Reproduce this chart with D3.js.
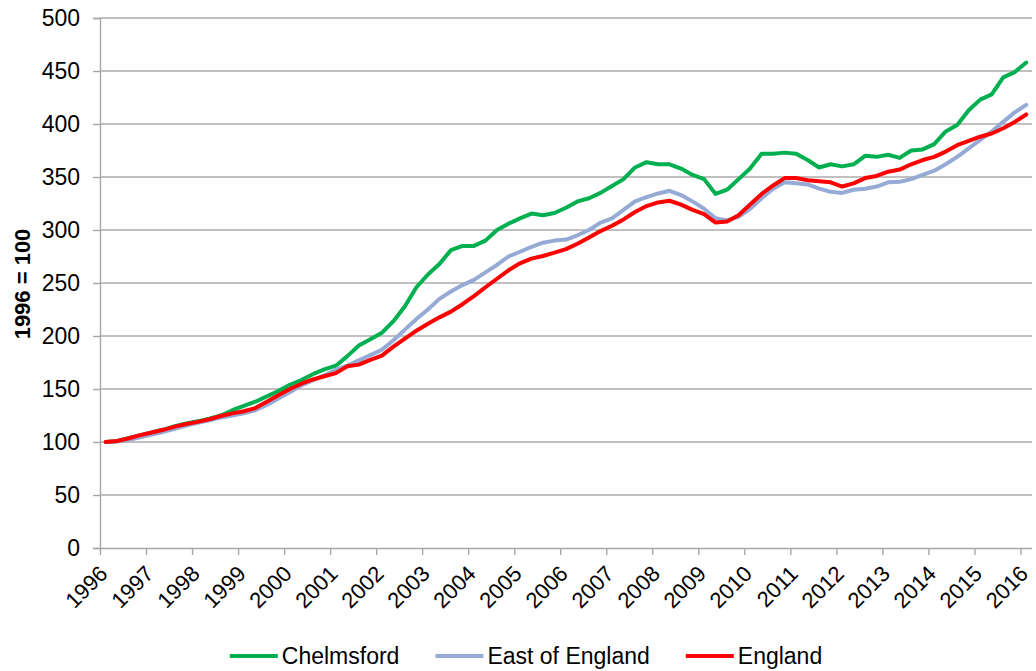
<!DOCTYPE html>
<html>
<head>
<meta charset="utf-8">
<script src="https://cdn.jsdelivr.net/npm/d3@7"></script>
<style>
  html, body { margin: 0; padding: 0; background: #fff; }
  svg { display: block; font-family: "Liberation Sans", Arial, sans-serif; }
</style>
</head>
<body>
<svg id="chart" width="1036" height="671"></svg>
<script>
// House price index, quarterly from 1996 Q1 to 2016 Q1 (1996 = 100)
const years = ["1996","1997","1998","1999","2000","2001","2002","2003","2004","2005","2006",
               "2007","2008","2009","2010","2011","2012","2013","2014","2015","2016"];

const chelmsford = [
  100, 101, 103.5, 106.5, 109, 111.5, 115, 117.5, 119.5, 122, 125, 130, 134, 138, 143, 148,
  154, 158.5, 164, 168.5, 172, 181, 191, 197, 203, 214, 228, 246, 258, 268, 281, 285,
  285, 290, 300, 306, 311, 315.5, 314, 316, 321, 327, 330, 335, 341.5, 348, 359, 364,
  362, 362, 358, 352, 348, 334, 338, 348, 358, 372, 372, 373, 372, 366, 359, 362,
  360, 362, 370, 369, 371, 368, 375, 376, 381, 393, 399, 413, 423, 428, 444, 449, 458
];

const eastOfEngland = [
  100, 100.5, 102, 104.5, 107, 109.5, 112.5, 115.5, 118, 120.5, 123, 125, 127, 130, 135, 141,
  147, 153.5, 158, 163, 168, 172, 177, 182, 187, 196, 206, 216, 225, 235, 242, 248,
  253, 260, 267, 275, 279.5, 284, 288, 290, 291, 295, 300, 307, 311, 319, 327, 331,
  334.5, 337, 333, 327, 320, 311, 309, 312.5, 320, 330, 339, 345, 344, 343, 339, 336,
  335, 338, 339, 341, 345, 345.5, 348, 352, 356, 362, 369, 377, 385, 393, 402, 411, 418
];

const england = [
  100, 101, 103.5, 106.5, 109, 111.5, 114.5, 117, 119, 121.5, 124.5, 127, 129, 132, 138, 144,
  150, 155, 159, 162, 165, 171.5, 173, 177.5, 181.5, 190, 197.5, 205, 211.5, 217.6, 223, 230,
  237.7, 246, 254, 262, 268.6, 273, 275.5, 278.6, 282, 287, 293, 299, 304, 310, 317, 322.6,
  326, 327.6, 324, 319, 315, 307, 308, 314, 324, 334, 342, 349, 349, 347, 346, 345,
  341, 344, 349, 351, 355, 357, 362, 366, 369, 374, 380, 384, 388, 391, 396, 402, 409
];

const yTicks = [0, 50, 100, 150, 200, 250, 300, 350, 400, 450, 500];

const series = [
  { name: "Chelmsford",      values: chelmsford,    color: "#00B050" },
  { name: "East of England", values: eastOfEngland, color: "#95ABD5" },
  { name: "England",         values: england,       color: "#FF0000" }
];

const svg = d3.select("#chart");
const plotLeft = 100, plotRight = 1032, plotTop = 18, plotBottom = 548;
const nQ = chelmsford.length;

// one band per quarter; year ticks sit on the band boundaries
const x = d3.scaleLinear().domain([0, nQ]).range([plotLeft, plotRight]);
const y = d3.scaleLinear().domain([0, 500]).range([plotBottom, plotTop]);

// horizontal gridlines
svg.append("g")
  .selectAll("line")
  .data(yTicks.filter(d => d > 0))
  .join("line")
  .attr("x1", plotLeft).attr("x2", plotRight)
  .attr("y1", d => y(d)).attr("y2", d => y(d))
  .attr("stroke", "#ABABAB").attr("stroke-width", 1.4);

// y axis
const yAxis = svg.append("g")
  .attr("transform", `translate(${plotLeft},0)`)
  .call(d3.axisLeft(y).tickValues(yTicks).tickSize(7).tickPadding(13));
yAxis.select(".domain").attr("stroke", "#A6A6A6").attr("stroke-width", 1.4);
yAxis.selectAll(".tick line").attr("stroke", "#A6A6A6").attr("stroke-width", 1.4);
yAxis.selectAll(".tick text")
  .attr("font-size", 23).attr("fill", "#000")
  .attr("font-family", "'Liberation Sans', Arial, sans-serif");

// x axis: year ticks every four quarters
const xTickPos = years.map((_, i) => i * 4);
const xAxis = svg.append("g")
  .attr("transform", `translate(0,${plotBottom})`)
  .call(d3.axisBottom(x).tickValues(xTickPos).tickSize(7).tickFormat(""));
xAxis.select(".domain").attr("stroke", "#A6A6A6").attr("stroke-width", 1.4)
  .attr("d", `M${plotLeft},0.5H${plotRight}`);
xAxis.selectAll(".tick line").attr("stroke", "#A6A6A6").attr("stroke-width", 1.4);

svg.append("g")
  .selectAll("text")
  .data(years)
  .join("text")
  .attr("transform", (d, i) => `translate(${x(i * 4) + 9},${plotBottom + 27}) rotate(-45)`)
  .attr("text-anchor", "end")
  .attr("font-size", 22)
  .attr("fill", "#000")
  .text(d => d);

// y axis title
svg.append("text")
  .attr("transform", `translate(30,284) rotate(-90)`)
  .attr("text-anchor", "middle")
  .attr("font-size", 22)
  .attr("font-weight", "bold")
  .attr("fill", "#000")
  .text("1996 = 100");

// index lines, one point per quarter at the band centre
const line = d3.line()
  .x((d, i) => x(i + 0.5))
  .y(d => y(d));

svg.append("g")
  .selectAll("path")
  .data(series)
  .join("path")
  .attr("d", d => line(d.values))
  .attr("fill", "none")
  .attr("stroke", d => d.color)
  .attr("stroke-width", 4)
  .attr("stroke-linejoin", "round")
  .attr("stroke-linecap", "round");

// legend
const legend = svg.append("g");
const legY = 656, swatch = 48, swGap = 4, itemGap = 36;
const items = legend.selectAll("g").data(series).join("g");
items.append("line")
  .attr("x1", 0).attr("x2", swatch)
  .attr("y1", 0).attr("y2", 0)
  .attr("stroke", d => d.color).attr("stroke-width", 4);
items.append("text")
  .attr("x", swatch + swGap)
  .attr("y", 8)
  .attr("font-size", 23)
  .attr("fill", "#000")
  .text(d => d.name);

let cursor = 0;
items.each(function () {
  const g = d3.select(this);
  g.attr("transform", `translate(${cursor},0)`);
  const w = g.select("text").node().getComputedTextLength();
  cursor += swatch + swGap + w + itemGap;
});
const total = cursor - itemGap;
legend.attr("transform", `translate(${526 - total / 2},${legY})`);
</script>
</body>
</html>
